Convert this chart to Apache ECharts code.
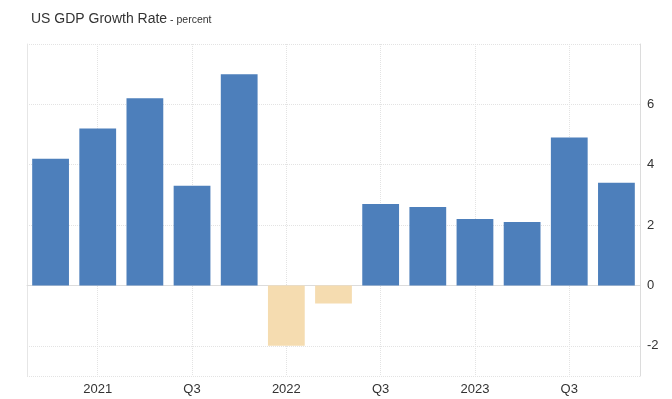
<!DOCTYPE html>
<html>
<head>
<meta charset="utf-8">
<title>US GDP Growth Rate</title>
<script src="https://cdn.jsdelivr.net/npm/echarts@6/dist/echarts.min.js"></script>
<style>
    html, body { margin: 0; padding: 0; background: #fff; }
    #chart { width: 672px; height: 399px; }
</style>
</head>
<body>
<div id="chart"></div>
<script>
// quarters from 2020 Q4 to 2023 Q4, only every second label is shown
var categories = ['Q4', '2021', 'Q2', 'Q3', 'Q4', '2022', 'Q2', 'Q3', 'Q4', '2023', 'Q2', 'Q3', 'Q4'];
var growth = [4.2, 5.2, 6.2, 3.3, 7.0, -2.0, -0.6, 2.7, 2.6, 2.2, 2.1, 4.9, 3.4];
var yTicks = [-2, 0, 2, 4, 6];

var fontFamily = '"Liberation Sans", Arial, sans-serif';
var gridColor = '#e3e3e3';

function everyOther(index) {
    return index % 2 === 1;
}

var myChart = echarts.init(document.getElementById('chart'));

var option = {
    animation: false,
    title: {
        left: 26,
        top: 7,
        text: '{main|US GDP Growth Rate}{sub| - percent}',
        textStyle: {
            fontWeight: 'normal',
            rich: {
                main: {fontSize: 14, color: '#333', fontWeight: 'normal', fontFamily: fontFamily},
                sub: {fontSize: 10.5, color: '#333', fontWeight: 'normal', fontFamily: fontFamily, padding: [3, 0, 0, 0]}
            }
        }
    },
    grid: {left: 27, right: 32, top: 44, bottom: 23},
    xAxis: {
        type: 'category',
        data: categories,
        boundaryGap: true,
        axisLine: {lineStyle: {color: '#dcdcdc'}},
        axisTick: {show: false},
        axisLabel: {
            interval: everyOther,
            color: '#333',
            fontSize: 13,
            fontFamily: fontFamily,
            margin: 7
        },
        splitLine: {
            show: true,
            interval: everyOther,
            alignWithLabel: true,
            lineStyle: {color: gridColor, type: 'dotted'}
        }
    },
    yAxis: [
        {
            type: 'value',
            position: 'right',
            min: -3,
            max: 8,
            splitNumber: 5,
            axisLine: {show: true, lineStyle: {color: '#dcdcdc'}},
            axisTick: {show: false},
            axisLabel: {
                color: '#333',
                fontSize: 13,
                fontFamily: fontFamily,
                margin: 7,
                showMinLabel: false,
                showMaxLabel: false,
                formatter: function (v) {
                    return yTicks.indexOf(v) >= 0 ? String(v) : '';
                }
            },
            splitLine: {lineStyle: {color: gridColor, type: 'dotted'}}
        },
        {
            // left border of the plot
            type: 'value',
            position: 'left',
            min: -3,
            max: 8,
            axisLine: {show: true, lineStyle: {color: '#e6e6e6'}},
            axisTick: {show: false},
            axisLabel: {show: false},
            splitLine: {show: false}
        }
    ],
    series: [
        {
            name: 'GDP Growth Rate',
            type: 'bar',
            barWidth: '78%',
            data: growth.map(function (v) {
                return {
                    value: v,
                    itemStyle: {color: v < 0 ? '#f5dcb0' : '#4d7fbb'}
                };
            })
        }
    ]
};

myChart.setOption(option);
</script>
</body>
</html>
